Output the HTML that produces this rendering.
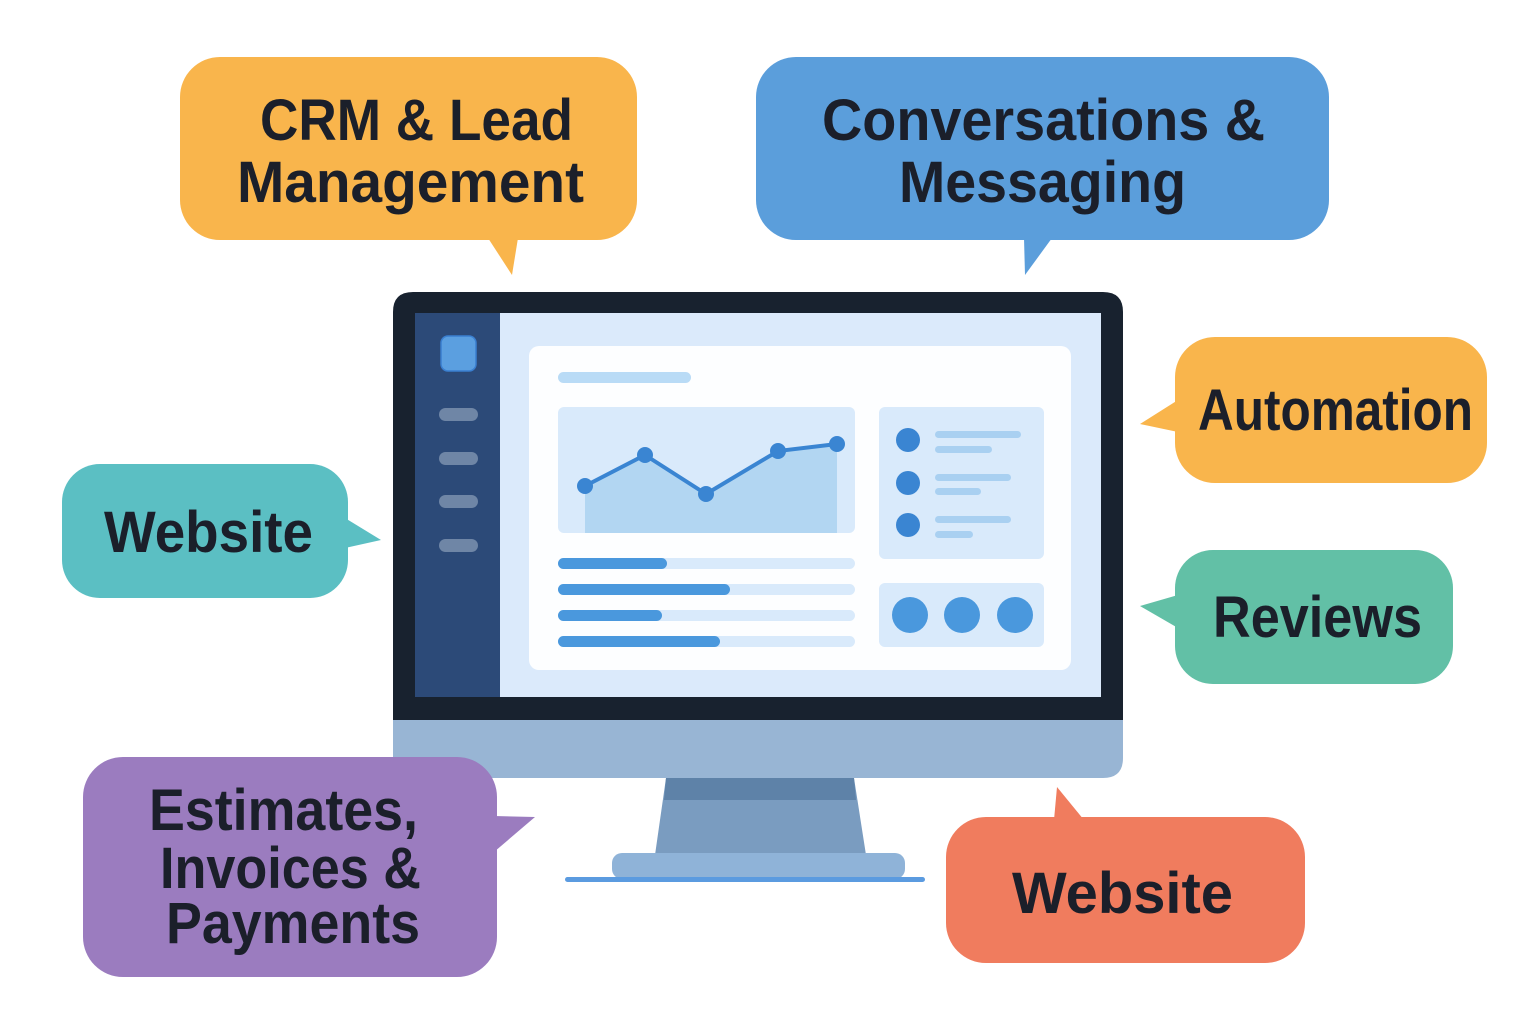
<!DOCTYPE html>
<html><head><meta charset="utf-8"><style>html,body{margin:0;padding:0;background:#fff}svg{display:block}</style></head>
<body>
<svg width="1536" height="1024" viewBox="0 0 1536 1024" xmlns="http://www.w3.org/2000/svg" font-family="Liberation Sans, sans-serif" font-weight="bold">
<rect width="1536" height="1024" fill="#fff"/>
<!-- monitor stand -->
<polygon points="666,778 854,778 866,855 655,855" fill="#7a9cc0"/>
<polygon points="666,778 854,778 856,800 664,800" fill="#5e82a8"/>
<rect x="612" y="853" width="293" height="26" rx="10" fill="#8fb3d8"/>
<rect x="565" y="877" width="360" height="5" rx="2.5" fill="#5b9be0"/>
<!-- monitor -->
<path d="M393,700 H1123 V758 Q1123,778 1103,778 H413 Q393,778 393,758 Z" fill="#98b5d4"/>
<path d="M393,312 Q393,292 413,292 H1103 Q1123,292 1123,312 V720 H393 Z" fill="#18222f"/>
<rect x="415" y="313" width="686" height="384" fill="#dbeafb"/>
<rect x="415" y="313" width="85" height="384" fill="#2c4a78"/>
<rect x="441" y="336" width="35" height="35" rx="7" fill="#5b9fe0" stroke="#3a7fd0" stroke-width="1.5"/>
<rect x="439" y="408" width="39" height="13" rx="6.5" fill="#6f86a6"/>
<rect x="439" y="452" width="39" height="13" rx="6.5" fill="#6f86a6"/>
<rect x="439" y="495" width="39" height="13" rx="6.5" fill="#6f86a6"/>
<rect x="439" y="539" width="39" height="13" rx="6.5" fill="#6f86a6"/>
<rect x="529" y="346" width="542" height="324" rx="10" fill="#fdfeff"/>
<rect x="558" y="372" width="133" height="11" rx="5.5" fill="#b9dbf6"/>
<rect x="558" y="407" width="297" height="126" rx="6" fill="#d9eafb"/>
<polygon points="585,533 585,486 645,455 706,494 778,451 837,444 837,533" fill="#b2d6f2"/>
<polyline points="585,486 645,455 706,494 778,451 837,444" fill="none" stroke="#3a85d2" stroke-width="4"/>
<g fill="#3a85d2"><circle cx="585" cy="486" r="8"/><circle cx="645" cy="455" r="8"/><circle cx="706" cy="494" r="8"/><circle cx="778" cy="451" r="8"/><circle cx="837" cy="444" r="8"/></g>
<rect x="879" y="407" width="165" height="152" rx="6" fill="#d9eafb"/>
<g fill="#3a85d2"><circle cx="908" cy="440" r="12"/><circle cx="908" cy="483" r="12"/><circle cx="908" cy="525" r="12"/></g>
<g fill="#a9d0f1"><rect x="935" y="431" width="86" height="7" rx="3.5"/><rect x="935" y="446" width="57" height="7" rx="3.5"/><rect x="935" y="474" width="76" height="7" rx="3.5"/><rect x="935" y="488" width="46" height="7" rx="3.5"/><rect x="935" y="516" width="76" height="7" rx="3.5"/><rect x="935" y="531" width="38" height="7" rx="3.5"/></g>
<g fill="#d9eafb"><rect x="558" y="558" width="297" height="11" rx="5.5"/><rect x="558" y="584" width="297" height="11" rx="5.5"/><rect x="558" y="610" width="297" height="11" rx="5.5"/><rect x="558" y="636" width="297" height="11" rx="5.5"/></g>
<g fill="#4a98dd"><rect x="558" y="558" width="109" height="11" rx="5.5"/><rect x="558" y="584" width="172" height="11" rx="5.5"/><rect x="558" y="610" width="104" height="11" rx="5.5"/><rect x="558" y="636" width="162" height="11" rx="5.5"/></g>
<rect x="879" y="583" width="165" height="64" rx="6" fill="#d9eafb"/>
<g fill="#4a98dd"><ellipse cx="910" cy="615" rx="18" ry="18"/><ellipse cx="962" cy="615" rx="18" ry="18"/><ellipse cx="1015" cy="615" rx="18" ry="18"/></g>
<!-- bubbles -->
<g fill="#f9b54c"><rect x="180" y="57" width="457" height="183" rx="40"/><polygon points="488,238 518,238 512,275"/></g>
<g fill="#5b9edb"><rect x="756" y="57" width="573" height="183" rx="40"/><polygon points="1024,238 1052,238 1025,275"/></g>
<g fill="#f9b54c"><rect x="1175" y="337" width="312" height="146" rx="40"/><polygon points="1178,400 1178,432 1140,424"/></g>
<g fill="#5bbfc3"><rect x="62" y="464" width="286" height="134" rx="38"/><polygon points="345,518 345,548 381,540"/></g>
<g fill="#62c0a6"><rect x="1175" y="550" width="278" height="134" rx="38"/><polygon points="1178,595 1178,628 1140,606"/></g>
<g fill="#9b7cbf"><rect x="83" y="757" width="414" height="220" rx="40"/><polygon points="494,816 494,852 535,817"/></g>
<g fill="#f07c5e"><rect x="946" y="817" width="359" height="146" rx="40"/><polygon points="1054,820 1084,820 1057,787"/></g>
<!-- text -->
<g fill="#1b1f2a" font-size="58" lengthAdjust="spacingAndGlyphs">
<text x="260" y="140" textLength="313" lengthAdjust="spacingAndGlyphs">CRM &amp; Lead</text>
<text x="237" y="202" textLength="347" lengthAdjust="spacingAndGlyphs">Management</text>
<text x="822" y="140" textLength="443" lengthAdjust="spacingAndGlyphs">Conversations &amp;</text>
<text x="899" y="202" textLength="287" lengthAdjust="spacingAndGlyphs">Messaging</text>
<text x="1198" y="430" textLength="275" lengthAdjust="spacingAndGlyphs">Automation</text>
<text x="104" y="552" textLength="209" lengthAdjust="spacingAndGlyphs">Website</text>
<text x="1213" y="637" textLength="209" lengthAdjust="spacingAndGlyphs">Reviews</text>
<text x="149" y="830" textLength="269" lengthAdjust="spacingAndGlyphs">Estimates,</text>
<text x="160" y="888" textLength="261" lengthAdjust="spacingAndGlyphs">Invoices &amp;</text>
<text x="166" y="943" textLength="254" lengthAdjust="spacingAndGlyphs">Payments</text>
<text x="1012" y="913" textLength="221" lengthAdjust="spacingAndGlyphs">Website</text>
</g>
</svg>
</body></html>
